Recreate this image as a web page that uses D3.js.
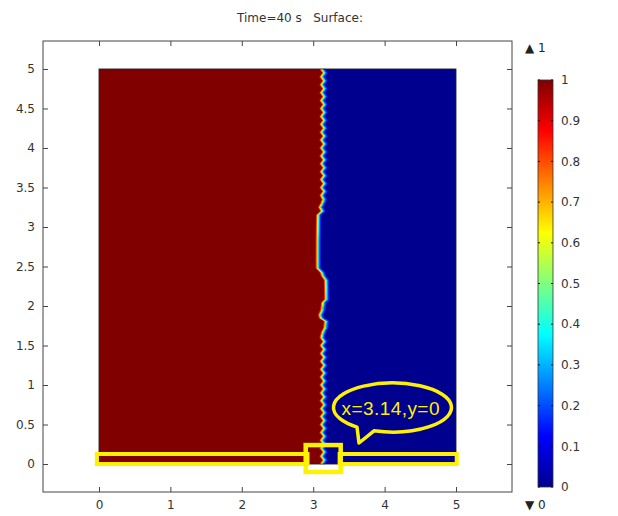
<!DOCTYPE html>
<html>
<head>
<meta charset="utf-8">
<script src="https://cdn.jsdelivr.net/npm/d3@7"></script>
<style>
    body { margin: 0; background: #fff; }
    text { font-family: "DejaVu Sans", sans-serif; }
</style>
</head>
<body>
<div class="container"></div>
<script>
var width = 618;
var height = 516;

var titleText = "Time=40 s   Surface:";
var xTicks = [0, 1, 2, 3, 4, 5];
var yTicks = [0, 0.5, 1, 1.5, 2, 2.5, 3, 3.5, 4, 4.5, 5];
var colorTicks = [0, 0.1, 0.2, 0.3, 0.4, 0.5, 0.6, 0.7, 0.8, 0.9, 1];
var colorMax = 1;
var colorMin = 0;
var calloutText = "x=3.14,y=0";

// phase interface: y position and x position
var interfaceY = [
    5.00, 4.95, 4.90, 4.85, 4.80, 4.75, 4.70, 4.65, 4.60, 4.55,
    4.50, 4.45, 4.40, 4.35, 4.30, 4.25, 4.20, 4.15, 4.10, 4.05,
    4.00, 3.95, 3.90, 3.85, 3.80, 3.75, 3.70, 3.65, 3.60, 3.55,
    3.50, 3.45, 3.40, 3.35, 3.30, 3.25, 3.20, 3.15, 2.80, 2.48,
    2.43, 2.38, 2.33, 2.08, 2.04, 1.95, 1.89, 1.85, 1.81, 1.72,
    1.67, 1.60, 1.55, 1.50, 1.45, 1.40, 1.35, 1.30, 1.25, 1.20,
    1.15, 1.10, 1.05, 1.00, 0.95, 0.90, 0.85, 0.80, 0.75, 0.70,
    0.65, 0.60, 0.55, 0.50, 0.45, 0.40, 0.35, 0.30, 0.25, 0.20,
    0.15, 0.10, 0.05, 0.00
];
var interfaceX = [
    3.12, 3.16, 3.12, 3.16, 3.12, 3.16, 3.12, 3.16, 3.12, 3.16,
    3.12, 3.16, 3.12, 3.16, 3.12, 3.16, 3.12, 3.16, 3.12, 3.16,
    3.12, 3.16, 3.12, 3.16, 3.12, 3.16, 3.12, 3.16, 3.12, 3.16,
    3.12, 3.16, 3.12, 3.15, 3.13, 3.10, 3.13, 3.07, 3.065, 3.065,
    3.12, 3.14, 3.18, 3.185, 3.14, 3.13, 3.10, 3.11, 3.18, 3.17,
    3.14, 3.12, 3.16, 3.12, 3.16, 3.12, 3.16, 3.12, 3.16, 3.12,
    3.16, 3.12, 3.16, 3.12, 3.16, 3.12, 3.16, 3.12, 3.16, 3.12,
    3.16, 3.12, 3.16, 3.12, 3.16, 3.12, 3.16, 3.12, 3.16, 3.12,
    3.16, 3.12, 3.16, 3.12
];

var frame = {left: 43, top: 41, right: 512, bottom: 492};
var yellow = "#fff200";

// jet colour map
var jetStops = [0, 0.125, 0.375, 0.625, 0.875, 1];
var jetColors = ["#00008f", "#0000ff", "#00ffff", "#ffff00", "#ff0000", "#800000"];
var jet = d3.scaleLinear().domain(jetStops).range(jetColors);

function init() {
    var svg = d3.select(".container").append("svg")
        .attr("width", width)
        .attr("height", height);

    var x = d3.scaleLinear().domain([-0.784, 5.784]).range([frame.left, frame.right]);
    var y = d3.scaleLinear().domain([-0.354, 5.354]).range([frame.bottom, frame.top]);

    svg.append("text")
        .attr("x", 300)
        .attr("y", 22)
        .attr("text-anchor", "middle")
        .style("white-space", "pre")
        .style("font-size", "12px")
        .attr("fill", "#333")
        .text(titleText);

    // domain: blue background, red phase left of interface
    var plot = svg.append("g");
    plot.append("rect")
        .attr("x", x(0))
        .attr("y", y(5))
        .attr("width", x(5) - x(0))
        .attr("height", y(0) - y(5))
        .attr("fill", jet(colorMin));

    var pts = interfaceY.map(function (d, i) { return [interfaceX[i], d]; });
    var redPts = [[0, 0], [0, 5]].concat(pts);
    var line = d3.line()
        .x(function (d) { return x(d[0]); })
        .y(function (d) { return y(d[1]); });

    plot.append("path")
        .attr("d", line(redPts) + "Z")
        .attr("fill", jet(colorMax));

    // smeared transition across the interface
    var bands = [
        {dx: -1.6, v: 0.82},
        {dx: -0.6, v: 0.64},
        {dx: 0.4, v: 0.45},
        {dx: 1.4, v: 0.3},
        {dx: 2.3, v: 0.17}
    ];
    plot.selectAll("path.band")
        .data(bands)
        .enter()
        .append("path")
        .classed("band", true)
        .attr("d", line(pts))
        .attr("transform", function (d) { return "translate(" + d.dx + ",0)"; })
        .attr("fill", "none")
        .attr("stroke", function (d) { return jet(d.v); })
        .attr("stroke-width", 1.2);

    plot.append("rect")
        .attr("x", x(0))
        .attr("y", y(5))
        .attr("width", x(5) - x(0))
        .attr("height", y(0) - y(5))
        .attr("fill", "none")
        .attr("stroke", "#222")
        .attr("stroke-width", 0.8);

    // frame and inward ticks on all four sides
    svg.append("rect")
        .attr("x", frame.left)
        .attr("y", frame.top)
        .attr("width", frame.right - frame.left)
        .attr("height", frame.bottom - frame.top)
        .attr("fill", "none")
        .attr("stroke", "#444");

    var axes = [
        {a: d3.axisLeft(y).tickValues(yTicks).tickFormat(d3.format("")), t: "translate(" + frame.left + ",0)"},
        {a: d3.axisBottom(x).tickValues(xTicks).tickFormat(d3.format("")), t: "translate(0," + frame.bottom + ")"},
        {a: d3.axisRight(y).tickValues(yTicks).tickFormat(""), t: "translate(" + frame.right + ",0)"},
        {a: d3.axisTop(x).tickValues(xTicks).tickFormat(""), t: "translate(0," + frame.top + ")"}
    ];
    axes.forEach(function (ax) {
        var g = svg.append("g")
            .attr("transform", ax.t)
            .call(ax.a.tickSizeInner(-5).tickSizeOuter(0).tickPadding(8));
        g.select(".domain").remove();
        g.selectAll("line").attr("stroke", "#444");
        g.selectAll("text")
            .attr("fill", "#333")
            .style("font-family", "DejaVu Sans")
            .style("font-size", "12px");
    });

    // highlight strip along y = 0 and the probe box
    var stripTop = y(0.127), stripBot = y(0);
    svg.append("rect")
        .attr("x", x(-0.03)).attr("y", stripTop)
        .attr("width", x(2.92) - x(-0.03)).attr("height", stripBot - stripTop)
        .attr("fill", "none").attr("stroke", yellow).attr("stroke-width", 4);
    svg.append("rect")
        .attr("x", x(3.37)).attr("y", stripTop)
        .attr("width", x(5.01) - x(3.37)).attr("height", stripBot - stripTop)
        .attr("fill", "none").attr("stroke", yellow).attr("stroke-width", 4);
    svg.append("rect")
        .attr("x", x(2.895)).attr("y", y(0.24))
        .attr("width", x(3.385) - x(2.895)).attr("height", y(-0.10) - y(0.24))
        .attr("fill", "none").attr("stroke", yellow).attr("stroke-width", 4.5);

    // speech bubble
    var cx = x(4.11), cy = y(0.715), rx = 59, ry = 24.5;
    var a1 = Math.acos((357 - cx) / rx), a2 = Math.acos((374 - cx) / rx);
    var p1 = [cx + rx * Math.cos(a1), cy + ry * Math.sin(a1)];
    var p2 = [cx + rx * Math.cos(a2), cy + ry * Math.sin(a2)];
    svg.append("path")
        .attr("d", "M" + p2[0] + "," + p2[1] + " A" + rx + "," + ry + " 0 1 0 " + p1[0] + "," + p1[1] +
            " L359,443 Z")
        .attr("fill", "none")
        .attr("stroke", yellow)
        .attr("stroke-width", 3.5)
        .attr("stroke-linejoin", "round");
    svg.append("text")
        .attr("x", cx - 2)
        .attr("y", cy + 7)
        .attr("text-anchor", "middle")
        .style("font-family", "Liberation Sans")
        .style("font-size", "19px")
        .attr("textLength", 98)
        .attr("fill", yellow)
        .text(calloutText);

    // colour bar
    var cb = d3.scaleLinear().domain([0, 1]).range([487, 80]);
    var grad = svg.append("defs").append("linearGradient")
        .attr("id", "jet")
        .attr("x1", 0).attr("y1", 1).attr("x2", 0).attr("y2", 0);
    grad.selectAll("stop")
        .data(jetStops)
        .enter()
        .append("stop")
        .attr("offset", function (d) { return d; })
        .attr("stop-color", function (d, i) { return jetColors[i]; });

    svg.append("rect")
        .attr("x", 538).attr("y", cb(1))
        .attr("width", 15).attr("height", cb(0) - cb(1))
        .attr("fill", "url(#jet)")
        .attr("stroke", "#333").attr("stroke-width", 0.8);

    var cbt = svg.selectAll("g.cbtick")
        .data(colorTicks)
        .enter()
        .append("g")
        .classed("cbtick", true)
        .attr("transform", function (d) { return "translate(0," + cb(d) + ")"; });
    cbt.append("line").attr("x1", 538).attr("x2", 540).attr("stroke", "#111");
    cbt.append("line").attr("x1", 551).attr("x2", 553).attr("stroke", "#111");
    cbt.append("text")
        .attr("x", 561)
        .attr("dy", "0.35em")
        .attr("fill", "#333")
        .style("font-size", "12px")
        .text(function (d) { return d3.format("")(d); });

    svg.append("text")
        .attr("x", 525).attr("y", 52)
        .attr("fill", "#222")
        .style("font-size", "12px")
        .text("\u25B2 " + colorMax);
    svg.append("text")
        .attr("x", 525).attr("y", 509)
        .attr("fill", "#222")
        .style("font-size", "12px")
        .text("\u25BC " + colorMin);
}

init();
</script>
</body>
</html>
